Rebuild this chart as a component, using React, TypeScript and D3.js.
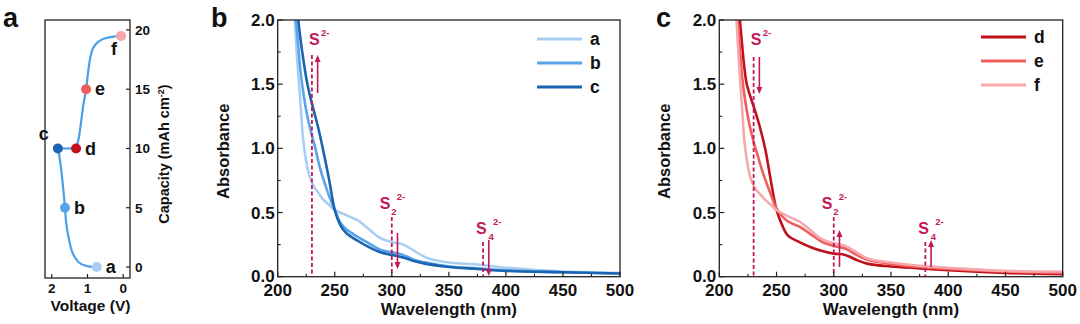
import React from "react";
import * as d3 from "d3";

// ---------- Panel a data ----------
const curveAV = [0.74, 0.9, 1.05, 1.25, 1.42, 1.53, 1.6, 1.63, 1.68, 1.74, 1.8, 1.83];
const curveACap = [0, 0.02, 0.1, 0.4, 1.2, 2.5, 3.8, 5, 6.6, 8.3, 9.6, 10];
const curveBV = [1.32, 1.25, 1.18, 1.12, 1.04, 0.98, 0.92, 0.84, 0.7, 0.5, 0.25, 0.06];
const curveBCap = [10, 10.8, 12.2, 13.6, 15, 16.5, 17.7, 18.5, 19.0, 19.3, 19.45, 19.5];
const pointLabels = ["a", "b", "c", "d", "e", "f"];
const pointV = [0.74, 1.63, 1.83, 1.32, 1.04, 0.06];
const pointCap = [0, 5, 10, 10, 15, 19.5];
const pointColors = ["#a8cff3", "#5aa4e9", "#1a64b0", "#c0111a", "#ef5d5d", "#f7a8aa"];
const capTicks = [0, 5, 10, 15, 20];
const voltTicks = [2, 1, 0];

// ---------- Spectra data ----------
const wlA = [215, 217, 220, 222, 225, 228, 232, 236, 240, 245, 250, 260, 265, 270, 280, 290, 300, 310, 320, 330, 350, 375, 400, 450, 500];
const absA = [2.0, 1.7, 1.35, 1.1, 0.9, 0.78, 0.7, 0.65, 0.6, 0.56, 0.52, 0.48, 0.46, 0.44, 0.37, 0.3, 0.27, 0.25, 0.2, 0.15, 0.11, 0.095, 0.07, 0.04, 0.03];
const wlB = [216, 218, 220, 223, 226, 230, 233, 237, 240, 245, 250, 255, 260, 265, 270, 280, 290, 300, 310, 320, 330, 350, 375, 400, 450, 500];
const absB = [2.0, 1.8, 1.6, 1.4, 1.25, 1.1, 1.0, 0.85, 0.76, 0.63, 0.52, 0.42, 0.37, 0.34, 0.31, 0.26, 0.21, 0.19, 0.17, 0.13, 0.11, 0.08, 0.065, 0.05, 0.035, 0.025];
const wlC = [218, 220, 222, 225, 228, 230, 232, 235, 240, 245, 250, 255, 260, 270, 280, 290, 300, 310, 320, 330, 350, 375, 400, 450, 500];
const absC = [2.0, 1.85, 1.72, 1.55, 1.42, 1.35, 1.28, 1.18, 0.98, 0.76, 0.52, 0.4, 0.34, 0.28, 0.23, 0.19, 0.17, 0.15, 0.12, 0.1, 0.075, 0.06, 0.045, 0.035, 0.025];
const wlD = [218, 220, 222, 224, 228, 231, 235, 240, 245, 250, 255, 260, 270, 280, 290, 300, 310, 320, 330, 350, 375, 400, 450, 500];
const absD = [2.0, 1.8, 1.62, 1.5, 1.38, 1.3, 1.18, 1.0, 0.75, 0.52, 0.4, 0.32, 0.27, 0.23, 0.2, 0.18, 0.17, 0.13, 0.1, 0.08, 0.065, 0.05, 0.03, 0.02];
const wlE = [216, 218, 220, 223, 226, 230, 233, 237, 240, 245, 250, 255, 260, 270, 280, 290, 300, 310, 320, 330, 350, 375, 400, 450, 500];
const absE = [2.0, 1.78, 1.55, 1.35, 1.2, 1.05, 0.96, 0.84, 0.76, 0.64, 0.53, 0.47, 0.43, 0.39, 0.33, 0.27, 0.24, 0.22, 0.17, 0.13, 0.1, 0.075, 0.06, 0.04, 0.03];
const wlF = [215, 217, 220, 222, 225, 228, 232, 236, 240, 245, 250, 260, 265, 270, 280, 290, 300, 310, 320, 330, 350, 375, 400, 450, 500];
const absF = [2.0, 1.7, 1.3, 1.05, 0.86, 0.75, 0.68, 0.64, 0.6, 0.56, 0.52, 0.47, 0.45, 0.43, 0.36, 0.29, 0.26, 0.24, 0.19, 0.14, 0.11, 0.085, 0.07, 0.045, 0.04];

const specColorsB = ["#a8cff3", "#5aa4e9", "#1a64b0"];
const specColorsC = ["#c0111a", "#ef5d5d", "#f7a8aa"];
const legendB = ["a", "b", "c"];
const legendC = ["d", "e", "f"];
const wlTicks = [200, 250, 300, 350, 400, 450, 500];
const absTicks = [0, 0.5, 1.0, 1.5, 2.0];
const peakWl = [230, 300, 380];
const arrowWl = [235, 305, 385];

const FONT = "Liberation Sans, Arial, sans-serif";
const ANN = "#c2185b";

type Series = { wl: number[]; ab: number[]; color: string };

function Spectrum(props: {
  left: number; right: number; panel: string; series: Series[]; legend: string[];
  legendX: number; legendY: number[]; arrows: { from: number; to: number }[];
  dashTop: number[]; panelX: number;
}) {
  const { left, right, panel, series, legend, legendX, legendY, arrows, dashTop, panelX } = props;
  const top = 20, bottom = 276.7;
  const x = d3.scaleLinear().domain([200, 500]).range([left, right]);
  const y = d3.scaleLinear().domain([0, 2]).range([bottom, top]);
  const line = d3.line<[number, number]>().x((d) => x(d[0])).y((d) => y(Math.min(d[1], 2.05))).curve(d3.curveCatmullRom.alpha(0.5));
  const minorX = d3.range(225, 500, 50);
  const minorY = d3.range(0.25, 2, 0.5);
  return (
    <g fontFamily={FONT} fontWeight="bold">
      <defs>
        <clipPath id={"clip" + panel}>
          <rect x={left} y={top} width={right - left} height={bottom - top} />
        </clipPath>
      </defs>
      <g clipPath={`url(#clip${panel})`}>
        {series.map((s, i) => (
          <path key={i} d={line(s.wl.map((w, j) => [w, s.ab[j]]) as [number, number][]) || ""} fill="none" stroke={s.color} strokeWidth={2.6} />
        ))}
      </g>
      {peakWl.map((w, i) => (
        <line key={"d" + i} x1={x(w)} x2={x(w)} y1={dashTop[i]} y2={bottom} stroke={ANN} strokeWidth={1.8} strokeDasharray="4,2.5" />
      ))}
      {arrowWl.map((w, i) => {
        const a = arrows[i];
        const dir = a.to < a.from ? -1 : 1;
        const tip = a.to;
        return (
          <g key={"a" + i}>
            <line x1={x(w)} x2={x(w)} y1={a.from} y2={tip - dir * 5} stroke={ANN} strokeWidth={1.6} />
            <path d={`M${x(w) - 3},${tip - dir * 7} L${x(w) + 3},${tip - dir * 7} L${x(w)},${tip} Z`} fill={ANN} />
          </g>
        );
      })}
      <g fill={ANN}>
        <text x={x(230) - 3} y={45} fontSize={16}>S</text>
        <text x={x(230) + 9} y={36} fontSize={9.5}>2-</text>
        <text x={x(300) - 12} y={209} fontSize={16}>S</text>
        <text x={x(300) - 0.5} y={215} fontSize={9.5}>2</text>
        <text x={x(300) + 5} y={200} fontSize={9.5}>2-</text>
        <text x={x(380) - 7} y={234} fontSize={16}>S</text>
        <text x={x(380) + 5.5} y={240} fontSize={9.5}>4</text>
        <text x={x(380) + 10} y={225} fontSize={9.5}>2-</text>
      </g>
      <rect x={left} y={top} width={right - left} height={bottom - top} fill="none" stroke="#222" strokeWidth={1.3} />
      {wlTicks.map((t) => (
        <g key={"xt" + t}>
          <line x1={x(t)} x2={x(t)} y1={bottom} y2={bottom - 5} stroke="#222" strokeWidth={1.2} />
          <text x={x(t)} y={bottom + 19.5} textAnchor="middle" fontSize={17} fill="#111">{t}</text>
        </g>
      ))}
      {minorX.map((t) => (
        <line key={"xm" + t} x1={x(t)} x2={x(t)} y1={bottom} y2={bottom - 3} stroke="#222" strokeWidth={1.1} />
      ))}
      {absTicks.map((t) => (
        <g key={"yt" + t}>
          <line x1={left} x2={left + 5} y1={y(t)} y2={y(t)} stroke="#222" strokeWidth={1.2} />
          <text x={left - 3} y={y(t) + (t === 0 ? 5 : 6)} textAnchor="end" fontSize={17} fill="#111">{t.toFixed(1)}</text>
        </g>
      ))}
      {minorY.map((t) => (
        <line key={"ym" + t} x1={left} x2={left + 3} y1={y(t)} y2={y(t)} stroke="#222" strokeWidth={1.1} />
      ))}
      <text x={(left + right) / 2} y={315} textAnchor="middle" fontSize={17} fill="#111">Wavelength (nm)</text>
      <text transform={`translate(${left - 49},${(top + bottom) / 2 + 3}) rotate(-90)`} textAnchor="middle" fontSize={16.5} fill="#111">Absorbance</text>
      <text x={panelX} y={27} fontSize={27} fill="#111">{panel}</text>
      {legend.map((l, i) => (
        <g key={"lg" + l}>
          <line x1={legendX} x2={legendX + 45} y1={legendY[i]} y2={legendY[i]} stroke={series[i].color} strokeWidth={3.2} />
          <text x={legendX + 53} y={legendY[i] + 6} fontSize={17.5} fill="#111">{l}</text>
        </g>
      ))}
    </g>
  );
}

function PanelA() {
  const left = 45, right = 130, top = 20, bottom = 278;
  const x = d3.scaleLinear().domain([2.19, -0.19]).range([left, right]);
  const y = d3.scaleLinear().domain([-0.93, 20.84]).range([bottom, top]);
  const line = d3.line<[number, number]>().x((d) => x(d[0])).y((d) => y(d[1])).curve(d3.curveCatmullRom.alpha(0.5));
  const seg1 = curveAV.map((v, i) => [v, curveACap[i]] as [number, number]);
  const seg2 = curveBV.map((v, i) => [v, curveBCap[i]] as [number, number]);
  const labelOff = [[9, 6], [9, 6], [-14, -8], [9, 7], [9, 6], [-10, 19]];
  return (
    <g fontFamily={FONT} fontWeight="bold">
      <path d={line(seg1) || ""} fill="none" stroke="#4a9eea" strokeWidth={2.2} />
      <line x1={x(1.83)} x2={x(1.32)} y1={y(10)} y2={y(10)} stroke="#4a9eea" strokeWidth={2.2} />
      <path d={line(seg2) || ""} fill="none" stroke="#4a9eea" strokeWidth={2.2} />
      {pointV.map((v, i) => (
        <g key={"p" + i}>
          <circle cx={x(v)} cy={y(pointCap[i])} r={5} fill={pointColors[i]} />
          <text x={x(v) + labelOff[i][0]} y={y(pointCap[i]) + labelOff[i][1]} fontSize={18} fill="#111" textAnchor={i === 2 ? "middle" : "start"}>{pointLabels[i]}</text>
        </g>
      ))}
      <rect x={left} y={top} width={right - left} height={bottom - top} fill="none" stroke="#222" strokeWidth={1.3} />
      {capTicks.map((t) => (
        <g key={"ct" + t}>
          <line x1={right} x2={right - 4} y1={y(t)} y2={y(t)} stroke="#222" strokeWidth={1.2} />
          <text x={right + 5} y={y(t) + 5} fontSize={13.5} fill="#111">{t}</text>
        </g>
      ))}
      {voltTicks.map((t) => (
        <g key={"vt" + t}>
          <line x1={x(t)} x2={x(t)} y1={bottom} y2={bottom - 4} stroke="#222" strokeWidth={1.2} />
          <text x={x(t)} y={bottom + 15} textAnchor="middle" fontSize={13.5} fill="#111">{t}</text>
        </g>
      ))}
      <text x={(left + right) / 2 + 3} y={311} textAnchor="middle" fontSize={15.5} fill="#111">Voltage (V)</text>
      <text transform={`translate(169,${(top + bottom) / 2 + 5}) rotate(-90)`} textAnchor="middle" fontSize={14.5} fill="#111">
        Capacity (mAh cm<tspan dy={-5} fontSize={9}>-2</tspan><tspan dy={5}>)</tspan>
      </text>
      <text x={3} y={27} fontSize={27} fill="#111">a</text>
    </g>
  );
}

export default function App() {
  const seriesB: Series[] = [
    { wl: wlA, ab: absA, color: specColorsB[0] },
    { wl: wlB, ab: absB, color: specColorsB[1] },
    { wl: wlC, ab: absC, color: specColorsB[2] },
  ];
  const seriesC: Series[] = [
    { wl: wlD, ab: absD, color: specColorsC[0] },
    { wl: wlE, ab: absE, color: specColorsC[1] },
    { wl: wlF, ab: absF, color: specColorsC[2] },
  ];
  return (
    <svg width={1080} height={324} style={{ position: "absolute", left: 0, top: 0, background: "#fff" }}>
      <rect width={1080} height={324} fill="#fff" />
      <PanelA />
      <Spectrum left={277.7} right={620} panel="b" panelX={211} series={seriesB} legend={legendB} legendX={537} legendY={[39, 63, 87]} arrows={[{ from: 93, to: 55 }, { from: 233, to: 269 }, { from: 240, to: 276 }]} dashTop={[55, 217, 242]} />
      <Spectrum left={719.3} right={1062.7} panel="c" panelX={656} series={seriesC} legend={legendC} legendX={981} legendY={[37, 61, 85]} arrows={[{ from: 57, to: 94 }, { from: 267, to: 230 }, { from: 267, to: 240 }]} dashTop={[57, 217, 242]} />
    </svg>
  );
}
